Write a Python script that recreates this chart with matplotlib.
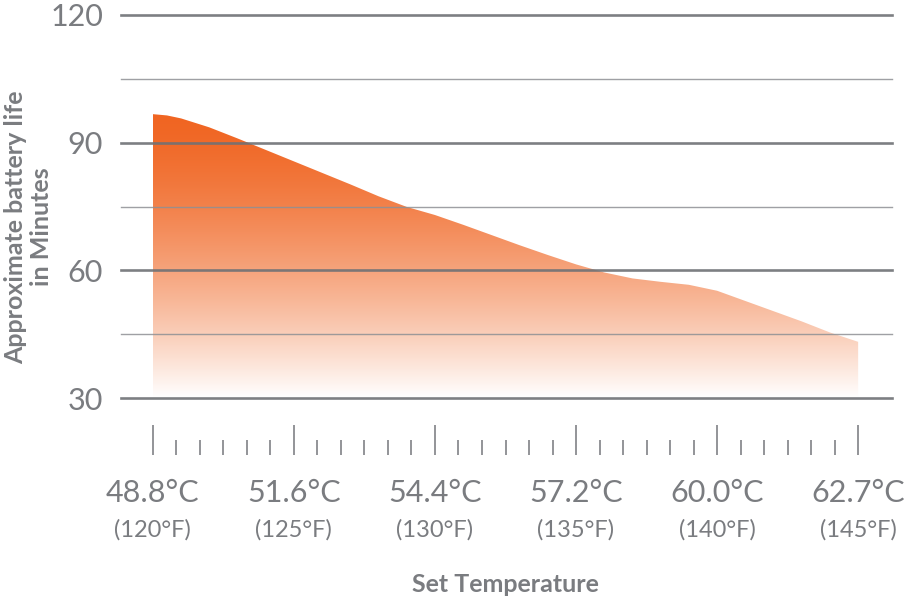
import numpy as np
import matplotlib
matplotlib.use("Agg")
import matplotlib.pyplot as plt
from matplotlib.ticker import FixedLocator
from matplotlib.transforms import blended_transform_factory

plt.rcParams['font.family'] = ['Lato', 'DejaVu Sans']

# data (x in deg F, y in minutes)
temp_f = [120, 120.5, 121, 122, 123, 124, 125, 126, 127, 128, 129, 130, 131,
          132, 133, 134, 135, 136, 137, 138, 139, 140, 141, 142, 143, 144, 145]
minutes = [96.7, 96.4, 95.7, 93.6, 91.0, 88.3, 85.6, 82.9, 80.2, 77.4, 74.9,
           73.0, 70.7, 68.3, 65.9, 63.6, 61.4, 59.5, 58.1, 57.3, 56.6, 55.2,
           52.8, 50.4, 48.0, 45.4, 43.2]
label_f = [120, 125, 130, 135, 140, 145]
label_c = ["48.8°C", "51.6°C", "54.4°C", "57.2°C", "60.0°C", "62.7°C"]
label_f_txt = ["(120°F)", "(125°F)", "(130°F)", "(135°F)", "(140°F)", "(145°F)"]
major_grid = [30, 60, 90, 120]
minor_grid = [45, 75, 105]

GRAY = "#7a7c80"
ORANGE = np.array([240, 101, 34]) / 255.0

fig = plt.figure(figsize=(9.08, 5.99), dpi=100)
ax = fig.add_axes([121 / 908, 1 - 398 / 599, 771 / 908, 383 / 599])

# gradient area: orange at the top fading to white at the bottom
poly = ax.fill_between(temp_f, 30, minutes, facecolor="none", lw=0)
n = 256
f = np.linspace(0, 1, n) ** 1.5
grad = np.ones((n, 1, 4))
grad[:, 0, :3] = ORANGE[None, :] * (1 - f[:, None]) + f[:, None]
img = ax.imshow(grad, extent=[min(temp_f), max(temp_f), 30, max(minutes)],
                aspect="auto", origin="upper", zorder=1, interpolation="bilinear")
img.set_clip_path(poly.get_paths()[0], transform=ax.transData)

for v in major_grid:
    ax.axhline(v, color="#6f7175", lw=1.9, alpha=0.9, zorder=3, clip_on=False)
for v in minor_grid:
    ax.axhline(v, color="#8e9094", lw=1.0, alpha=0.85, zorder=3, clip_on=False)

ax.set_xlim(118.87, 146.2)
ax.set_ylim(30, 120)

for s in ["top", "right", "left"]:
    ax.spines[s].set_visible(False)
ax.spines["bottom"].set_position(("outward", 41))
ax.spines["bottom"].set_visible(False)

# six minor steps between each pair of labelled temperatures
minor = [a + (b - a) * k / 6 for a, b in zip(label_f[:-1], label_f[1:])
         for k in range(1, 6)]
ax.set_xticks(label_f)
ax.set_xticklabels(label_c)
ax.xaxis.set_minor_locator(FixedLocator(minor))
ax.tick_params(axis="x", which="major", direction="in", length=21.6, width=1.2,
               color="#808286", pad=17, labelsize=22, labelcolor=GRAY)
ax.tick_params(axis="x", which="minor", direction="in", length=10.8, width=1.2,
               color="#808286")

ax.set_yticks(major_grid)
ax.tick_params(axis="y", length=0, pad=13, labelsize=22, labelcolor=GRAY)

trans = blended_transform_factory(ax.transData, ax.transAxes)
for x, s in zip(label_f, label_f_txt):
    ax.text(x, -0.345, s, transform=trans, ha="center", va="center",
            fontsize=17, color=GRAY)

fig.text(505 / 908, 1 - 585 / 599, "Set Temperature", ha="center", va="center",
         fontsize=18, fontweight="bold", color=GRAY)
fig.text(29 / 908, 1 - 227 / 599, "Approximate battery life\nin Minutes",
         rotation=90, ha="center", va="center", multialignment="center",
         fontsize=18, fontweight="bold", color=GRAY, linespacing=1.15)

fig.savefig("out.png", dpi=100)
